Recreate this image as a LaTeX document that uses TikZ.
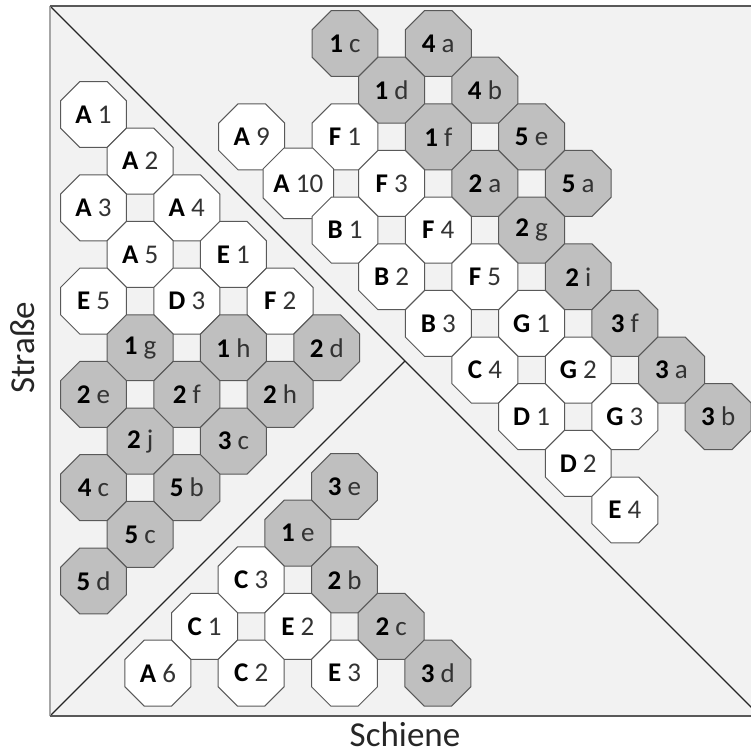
\documentclass[tikz,border=0pt]{standalone}
\usepackage{fontspec}
\setmainfont{Carlito}
\usetikzlibrary{shapes.geometric}
\definecolor{bgfill}{HTML}{F2F2F2}
\definecolor{grayfill}{HTML}{BFBFBF}
\definecolor{octline}{HTML}{595959}
\definecolor{numcol}{HTML}{333333}
\definecolor{txtcol}{HTML}{262626}
\tikzset{
  oct/.style={regular polygon, regular polygon sides=8, minimum size=71.4pt,
    inner sep=0pt, outer sep=0pt, draw=octline, line width=1pt,
    font=\fontsize{27}{32}\selectfont},
  wh/.style={oct, fill=white},
  gr/.style={oct, fill=grayfill},
  divline/.style={draw=black!85, line width=1.4pt},
  axislabel/.style={font=\fontsize{35}{42}\selectfont, text=txtcol, inner sep=0pt, anchor=base},
}
\begin{document}
\begin{tikzpicture}[x=1pt,y=-1pt]
\useasboundingbox (0,0) rectangle (751,754);
\clip (0,0) rectangle (751,754);
\coordinate (TL) at (50,6);
\coordinate (BL) at (50,716);
\coordinate (BR) at (760,716);
\coordinate (TR) at (760,6);
\coordinate (M) at (405,361);
\fill[bgfill] (TL) rectangle (BR);
\draw[divline] (TL) -- (BR);
\draw[divline] (BL) -- (M);
\draw[draw=black!35, line width=1.8pt] (BL) -- (TL);
\draw[draw=octline, line width=1.8pt] (TL) -- (TR);
\draw[draw=octline, line width=1.8pt] (BL) -- (BR);
\def\h{46.65}
% left group
\foreach \n/\i/\j/\L/\N/\s in {
  A1/0/0/A/1/wh, A2/1/1/A/2/wh, A3/0/2/A/3/wh, A4/2/2/A/4/wh,
  A5/1/3/A/5/wh, E1/3/3/E/1/wh, E5/0/4/E/5/wh, D3/2/4/D/3/wh, F2/4/4/F/2/wh,
  1g/1/5/1/g/gr, 1h/3/5/1/h/gr, 2d/5/5/2/d/gr,
  2e/0/6/2/e/gr, 2f/2/6/2/f/gr, 2h/4/6/2/h/gr,
  2j/1/7/2/j/gr, 3c/3/7/3/c/gr,
  4c/0/8/4/c/gr, 5b/2/8/5/b/gr, 5c/1/9/5/c/gr, 5d/0/10/5/d/gr}
  \node[\s] (n\n) at ({93.5+\i*\h},{114.5+\j*\h}) {\textbf{\L}~\textcolor{numcol}{\N}};
% upper group
\foreach \n/\i/\j/\L/\N/\s in {
  1c/0/0/1/c/gr, 4a/2/0/4/a/gr, 1d/1/1/1/d/gr, 4b/3/1/4/b/gr,
  A9/-2/2/A/9/wh, F1/0/2/F/1/wh, 1f/2/2/1/f/gr, 5e/4/2/5/e/gr,
  A10/-1/3/A/10/wh, F3/1/3/F/3/wh, 2a/3/3/2/a/gr, 5a/5/3/5/a/gr,
  B1/0/4/B/1/wh, F4/2/4/F/4/wh, 2g/4/4/2/g/gr,
  B2/1/5/B/2/wh, F5/3/5/F/5/wh, 2i/5/5/2/i/gr,
  B3/2/6/B/3/wh, G1/4/6/G/1/wh, 3f/6/6/3/f/gr,
  C4/3/7/C/4/wh, G2/5/7/G/2/wh, 3a/7/7/3/a/gr,
  D1/4/8/D/1/wh, G3/6/8/G/3/wh, 3b/8/8/3/b/gr,
  D2/5/9/D/2/wh, E4/6/10/E/4/wh}
  \node[\s] (n\n) at ({345+\i*\h},{43.5+\j*\h}) {\textbf{\L}~\textcolor{numcol}{\N}};
% bottom group
\foreach \n/\i/\j/\L/\N/\s in {
  3e/0/0/3/e/gr, 1e/-1/1/1/e/gr, C3/-2/2/C/3/wh, 2b/0/2/2/b/gr,
  C1/-3/3/C/1/wh, E2/-1/3/E/2/wh, 2c/1/3/2/c/gr,
  A6/-4/4/A/6/wh, C2/-2/4/C/2/wh, E3/0/4/E/3/wh, 3d/2/4/3/d/gr}
  \node[\s] (n\n) at ({344.5+\i*\h},{486.5+\j*\h}) {\textbf{\L}~\textcolor{numcol}{\N}};
\node[axislabel, rotate=90] (ylab) at (34,348) {Straße};
\node[axislabel] (xlab) at (405,746) {Schiene};
\end{tikzpicture}
\end{document}
